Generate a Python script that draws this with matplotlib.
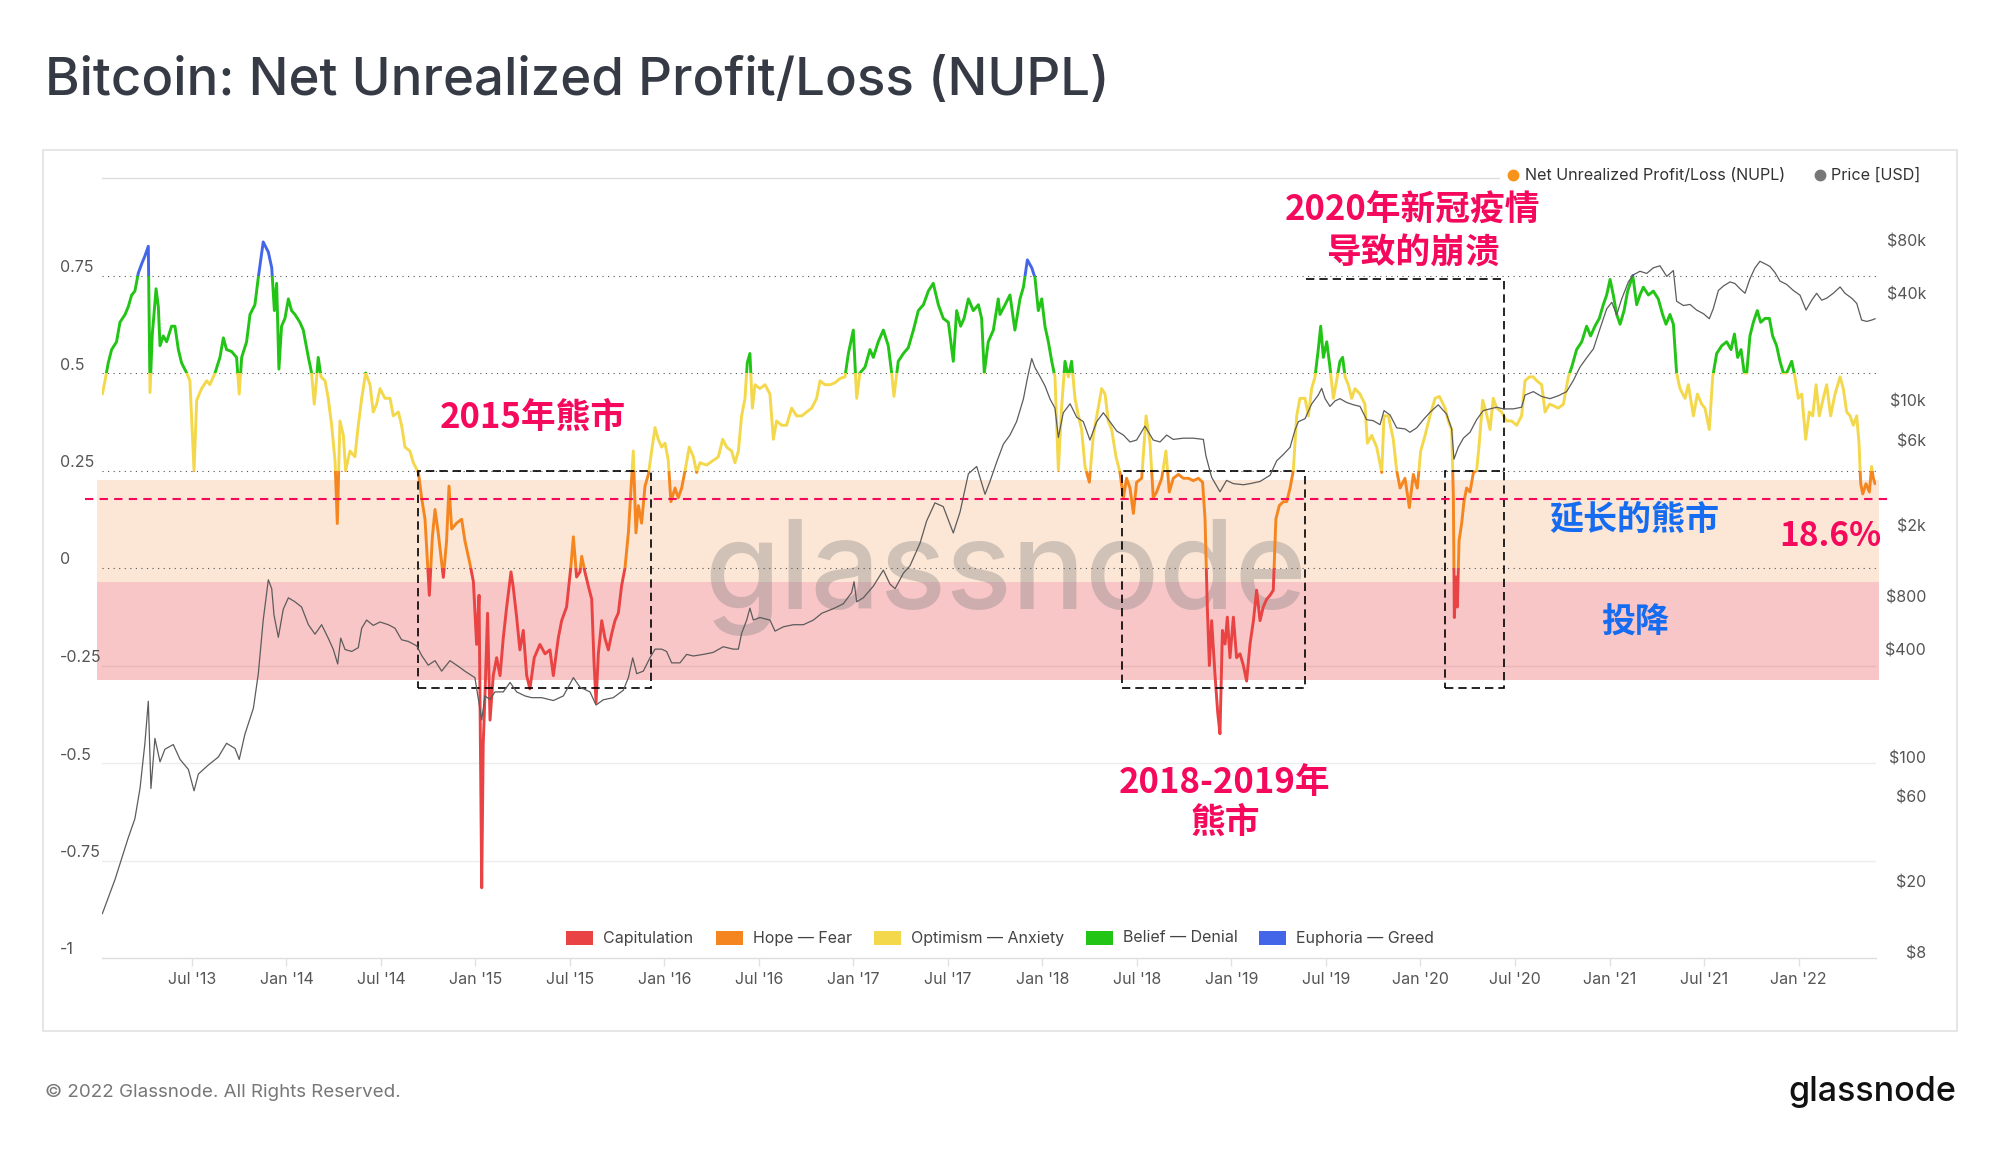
import matplotlib
matplotlib.use("Agg")
import matplotlib.pyplot as plt
from matplotlib.patches import Rectangle
from matplotlib.lines import Line2D
from matplotlib.ticker import NullLocator
from matplotlib.transforms import blended_transform_factory, offset_copy

plt.rcParams['font.family'] = ['Inter', 'Noto Sans CJK SC', 'DejaVu Sans']

# ---------------- data ----------------
nupl_t = [
    2013.026, 2013.040, 2013.057, 2013.075, 2013.101, 2013.119, 2013.146, 2013.163, 2013.181, 2013.198,
    2013.216, 2013.234, 2013.251, 2013.269, 2013.278, 2013.290, 2013.299, 2013.310, 2013.322, 2013.331,
    2013.348, 2013.366, 2013.392, 2013.410, 2013.428, 2013.445, 2013.472, 2013.489, 2013.511, 2013.525,
    2013.551, 2013.578, 2013.595, 2013.622, 2013.648, 2013.666, 2013.683, 2013.710, 2013.736, 2013.750,
    2013.763, 2013.789, 2013.807, 2013.833, 2013.851, 2013.877, 2013.904, 2013.922, 2013.936, 2013.948,
    2013.960, 2013.974, 2013.992, 2014.010, 2014.027, 2014.045, 2014.071, 2014.089, 2014.116, 2014.133,
    2014.147, 2014.160, 2014.168, 2014.183, 2014.204, 2014.221, 2014.239, 2014.257, 2014.269, 2014.283,
    2014.301, 2014.313, 2014.336, 2014.362, 2014.380, 2014.398, 2014.419, 2014.442, 2014.459, 2014.477,
    2014.495, 2014.521, 2014.548, 2014.565, 2014.592, 2014.609, 2014.627, 2014.653, 2014.671, 2014.698,
    2014.715, 2014.733, 2014.756, 2014.772, 2014.786, 2014.803, 2014.830, 2014.847, 2014.860, 2014.874,
    2014.900, 2014.927, 2014.944, 2014.971, 2014.989, 2015.006, 2015.019, 2015.033, 2015.041, 2015.050,
    2015.064, 2015.077, 2015.094, 2015.112, 2015.130, 2015.147, 2015.165, 2015.188, 2015.200, 2015.218,
    2015.235, 2015.253, 2015.271, 2015.288, 2015.311, 2015.341, 2015.368, 2015.394, 2015.412, 2015.438,
    2015.456, 2015.482, 2015.504, 2015.518, 2015.535, 2015.553, 2015.562, 2015.579, 2015.597, 2015.615,
    2015.627, 2015.638, 2015.650, 2015.668, 2015.685, 2015.703, 2015.720, 2015.738, 2015.756, 2015.773,
    2015.791, 2015.809, 2015.826, 2015.835, 2015.849, 2015.862, 2015.879, 2015.897, 2015.915, 2015.932,
    2015.950, 2015.967, 2015.985, 2016.003, 2016.020, 2016.034, 2016.056, 2016.073, 2016.091, 2016.109,
    2016.131, 2016.153, 2016.170, 2016.188, 2016.223, 2016.258, 2016.285, 2016.308, 2016.329, 2016.355,
    2016.373, 2016.391, 2016.408, 2016.426, 2016.438, 2016.452, 2016.465, 2016.479, 2016.505, 2016.532,
    2016.558, 2016.576, 2016.593, 2016.620, 2016.646, 2016.673, 2016.699, 2016.726, 2016.752, 2016.779,
    2016.805, 2016.823, 2016.849, 2016.876, 2016.902, 2016.929, 2016.955, 2016.973, 2016.999, 2017.017,
    2017.034, 2017.061, 2017.087, 2017.105, 2017.131, 2017.158, 2017.184, 2017.202, 2017.214, 2017.237,
    2017.264, 2017.290, 2017.317, 2017.343, 2017.370, 2017.396, 2017.422, 2017.449, 2017.475, 2017.502,
    2017.528, 2017.546, 2017.567, 2017.585, 2017.608, 2017.634, 2017.661, 2017.678, 2017.692, 2017.713,
    2017.740, 2017.766, 2017.775, 2017.802, 2017.828, 2017.854, 2017.881, 2017.899, 2017.920, 2017.943,
    2017.960, 2017.978, 2017.996, 2018.013, 2018.031, 2018.049, 2018.066, 2018.084, 2018.101, 2018.119,
    2018.137, 2018.154, 2018.172, 2018.190, 2018.207, 2018.225, 2018.248, 2018.269, 2018.295, 2018.313,
    2018.331, 2018.348, 2018.366, 2018.389, 2018.410, 2018.428, 2018.445, 2018.463, 2018.481, 2018.498,
    2018.525, 2018.548, 2018.569, 2018.586, 2018.604, 2018.631, 2018.653, 2018.671, 2018.692, 2018.719,
    2018.745, 2018.772, 2018.798, 2018.825, 2018.847, 2018.860, 2018.872, 2018.883, 2018.895, 2018.913,
    2018.927, 2018.939, 2018.952, 2018.966, 2018.978, 2018.992, 2019.010, 2019.027, 2019.045, 2019.063,
    2019.080, 2019.098, 2019.116, 2019.133, 2019.151, 2019.168, 2019.186, 2019.204, 2019.221, 2019.235,
    2019.253, 2019.274, 2019.292, 2019.310, 2019.327, 2019.345, 2019.362, 2019.389, 2019.407, 2019.424,
    2019.442, 2019.459, 2019.472, 2019.486, 2019.504, 2019.521, 2019.539, 2019.556, 2019.574, 2019.588,
    2019.601, 2019.618, 2019.636, 2019.653, 2019.680, 2019.706, 2019.719, 2019.742, 2019.768, 2019.795,
    2019.807, 2019.830, 2019.856, 2019.874, 2019.892, 2019.918, 2019.941, 2019.962, 2019.983, 2020.001,
    2020.024, 2020.050, 2020.077, 2020.100, 2020.130, 2020.147, 2020.165, 2020.174, 2020.179, 2020.188,
    2020.195, 2020.204, 2020.218, 2020.230, 2020.244, 2020.262, 2020.280, 2020.297, 2020.311, 2020.329,
    2020.347, 2020.368, 2020.385, 2020.403, 2020.429, 2020.456, 2020.482, 2020.509, 2020.535, 2020.553,
    2020.576, 2020.597, 2020.615, 2020.641, 2020.659, 2020.682, 2020.703, 2020.729, 2020.756, 2020.782,
    2020.800, 2020.826, 2020.853, 2020.879, 2020.900, 2020.923, 2020.946, 2020.967, 2020.985, 2021.003,
    2021.020, 2021.038, 2021.056, 2021.077, 2021.096, 2021.123, 2021.144, 2021.161, 2021.179, 2021.206,
    2021.232, 2021.258, 2021.281, 2021.299, 2021.320, 2021.338, 2021.355, 2021.373, 2021.400, 2021.417,
    2021.444, 2021.465, 2021.488, 2021.505, 2021.528, 2021.546, 2021.567, 2021.594, 2021.620, 2021.643,
    2021.661, 2021.678, 2021.696, 2021.713, 2021.726, 2021.743, 2021.761, 2021.782, 2021.800, 2021.823,
    2021.846, 2021.863, 2021.884, 2021.902, 2021.920, 2021.937, 2021.964, 2021.981, 2021.999, 2022.017,
    2022.038, 2022.057, 2022.075, 2022.093, 2022.110, 2022.131, 2022.149, 2022.170, 2022.193, 2022.220,
    2022.237, 2022.255, 2022.273, 2022.290, 2022.308, 2022.320, 2022.329, 2022.340, 2022.357, 2022.375,
    2022.387, 2022.396, 2022.405,
]
nupl_v = [
    0.446, 0.48, 0.526, 0.56, 0.58, 0.63, 0.65, 0.67, 0.70, 0.71,
    0.756, 0.78, 0.80, 0.825, 0.45, 0.60, 0.65, 0.716, 0.67, 0.57,
    0.595, 0.58, 0.62, 0.62, 0.56, 0.526, 0.50, 0.48, 0.25, 0.43,
    0.46, 0.48, 0.47, 0.50, 0.54, 0.59, 0.56, 0.555, 0.54, 0.446,
    0.54, 0.58, 0.65, 0.675, 0.745, 0.836, 0.81, 0.77, 0.66, 0.73,
    0.51, 0.62, 0.64, 0.69, 0.66, 0.65, 0.63, 0.61, 0.54, 0.50,
    0.42, 0.49, 0.54, 0.49, 0.48, 0.435, 0.366, 0.274, 0.114, 0.377,
    0.34, 0.25, 0.30, 0.285, 0.366, 0.435, 0.50, 0.47, 0.40, 0.42,
    0.46, 0.435, 0.435, 0.39, 0.40, 0.366, 0.31, 0.30, 0.27, 0.245,
    0.18, 0.125, -0.07, 0.08, 0.15, 0.09, -0.024, 0.068, 0.21, 0.10,
    0.115, 0.125, 0.07, 0.01, -0.035, -0.196, -0.07, -0.82, -0.45, -0.33,
    -0.116, -0.39, -0.276, -0.23, -0.276, -0.18, -0.10, -0.01, -0.05, -0.127,
    -0.21, -0.16, -0.276, -0.31, -0.23, -0.196, -0.22, -0.21, -0.276, -0.18,
    -0.135, -0.10, 0.0, 0.08, -0.023, -0.01, 0.03, -0.01, -0.046, -0.08,
    -0.24, -0.345, -0.22, -0.135, -0.18, -0.21, -0.17, -0.135, -0.115, -0.046,
    0.0, 0.09, 0.228, 0.30, 0.09, 0.16, 0.115, 0.21, 0.24, 0.30,
    0.36, 0.33, 0.31, 0.32, 0.276, 0.17, 0.205, 0.18, 0.205, 0.25,
    0.31, 0.285, 0.245, 0.27, 0.264, 0.276, 0.285, 0.33, 0.31, 0.30,
    0.27, 0.30, 0.39, 0.435, 0.526, 0.55, 0.41, 0.47, 0.46, 0.47,
    0.446, 0.33, 0.377, 0.366, 0.366, 0.41, 0.39, 0.39, 0.40, 0.41,
    0.435, 0.48, 0.47, 0.47, 0.475, 0.486, 0.49, 0.55, 0.61, 0.435,
    0.50, 0.515, 0.56, 0.54, 0.58, 0.61, 0.57, 0.50, 0.44, 0.53,
    0.55, 0.565, 0.61, 0.66, 0.675, 0.71, 0.73, 0.675, 0.64, 0.63,
    0.53, 0.66, 0.62, 0.64, 0.69, 0.66, 0.675, 0.64, 0.50, 0.58,
    0.61, 0.69, 0.65, 0.675, 0.70, 0.61, 0.69, 0.72, 0.79, 0.77,
    0.745, 0.66, 0.69, 0.62, 0.58, 0.53, 0.49, 0.25, 0.41, 0.53,
    0.49, 0.53, 0.435, 0.39, 0.355, 0.26, 0.22, 0.34, 0.41, 0.46,
    0.446, 0.377, 0.355, 0.285, 0.245, 0.18, 0.23, 0.205, 0.14, 0.22,
    0.23, 0.39, 0.32, 0.18, 0.195, 0.23, 0.30, 0.195, 0.23, 0.24,
    0.23, 0.23, 0.224, 0.23, 0.22, 0.126, -0.10, -0.25, -0.135, -0.276,
    -0.37, -0.425, -0.16, -0.195, -0.126, -0.23, -0.126, -0.23, -0.22, -0.25,
    -0.29, -0.195, -0.135, -0.057, -0.135, -0.10, -0.08, -0.07, -0.057, 0.126,
    0.16, 0.17, 0.17, 0.205, 0.25, 0.39, 0.435, 0.435, 0.39, 0.46,
    0.49, 0.56, 0.62, 0.54, 0.58, 0.515, 0.435, 0.48, 0.53, 0.54,
    0.49, 0.47, 0.435, 0.46, 0.446, 0.42, 0.32, 0.34, 0.31, 0.245,
    0.39, 0.39, 0.33, 0.25, 0.205, 0.23, 0.155, 0.24, 0.205, 0.30,
    0.34, 0.39, 0.435, 0.44, 0.41, 0.377, 0.355, 0.18, -0.127, -0.023,
    -0.10, 0.07, 0.115, 0.17, 0.205, 0.195, 0.245, 0.25, 0.32, 0.43,
    0.40, 0.355, 0.435, 0.41, 0.40, 0.377, 0.377, 0.366, 0.39, 0.48,
    0.49, 0.49, 0.48, 0.47, 0.40, 0.42, 0.416, 0.41, 0.42, 0.49,
    0.515, 0.56, 0.58, 0.62, 0.595, 0.62, 0.64, 0.675, 0.70, 0.74,
    0.70, 0.65, 0.625, 0.66, 0.71, 0.75, 0.675, 0.70, 0.72, 0.70,
    0.71, 0.69, 0.65, 0.625, 0.65, 0.625, 0.50, 0.46, 0.435, 0.47,
    0.39, 0.446, 0.42, 0.41, 0.355, 0.49, 0.55, 0.57, 0.58, 0.56,
    0.60, 0.54, 0.56, 0.50, 0.50, 0.595, 0.63, 0.66, 0.63, 0.64,
    0.64, 0.595, 0.57, 0.53, 0.50, 0.50, 0.53, 0.49, 0.435, 0.446,
    0.33, 0.40, 0.39, 0.47, 0.39, 0.435, 0.47, 0.39, 0.446, 0.49,
    0.46, 0.40, 0.39, 0.366, 0.39, 0.32, 0.216, 0.19, 0.216, 0.195,
    0.26, 0.23, 0.216,
]

price_t = [
    2013.026, 2013.093, 2013.163, 2013.198, 2013.225, 2013.251, 2013.269, 2013.283, 2013.304, 2013.331,
    2013.357, 2013.401, 2013.437, 2013.481, 2013.511, 2013.534, 2013.586, 2013.639, 2013.683, 2013.728,
    2013.750, 2013.780, 2013.825, 2013.851, 2013.877, 2013.904, 2013.922, 2013.934, 2013.957, 2013.983,
    2014.010, 2014.045, 2014.080, 2014.116, 2014.151, 2014.186, 2014.221, 2014.248, 2014.271, 2014.287,
    2014.310, 2014.345, 2014.380, 2014.398, 2014.424, 2014.459, 2014.495, 2014.539, 2014.574, 2014.609,
    2014.645, 2014.689, 2014.715, 2014.750, 2014.786, 2014.821, 2014.865, 2014.909, 2014.944, 2014.997,
    2015.033, 2015.050, 2015.077, 2015.103, 2015.147, 2015.183, 2015.218, 2015.262, 2015.297, 2015.350,
    2015.412, 2015.465, 2015.518, 2015.553, 2015.606, 2015.638, 2015.676, 2015.729, 2015.782, 2015.809,
    2015.832, 2015.853, 2015.888, 2015.923, 2015.950, 2015.985, 2016.011, 2016.038, 2016.082, 2016.117,
    2016.153, 2016.206, 2016.258, 2016.311, 2016.364, 2016.391, 2016.408, 2016.435, 2016.452, 2016.470,
    2016.505, 2016.558, 2016.585, 2016.629, 2016.682, 2016.735, 2016.788, 2016.832, 2016.893, 2016.946,
    2016.990, 2017.003, 2017.017, 2017.052, 2017.105, 2017.158, 2017.193, 2017.220, 2017.264, 2017.299,
    2017.352, 2017.387, 2017.431, 2017.475, 2017.528, 2017.564, 2017.608, 2017.652, 2017.696, 2017.722,
    2017.760, 2017.793, 2017.828, 2017.863, 2017.899, 2017.922, 2017.943, 2017.960, 2017.987, 2018.013,
    2018.040, 2018.066, 2018.084, 2018.110, 2018.146, 2018.181, 2018.216, 2018.251, 2018.287, 2018.322,
    2018.357, 2018.392, 2018.428, 2018.463, 2018.498, 2018.542, 2018.586, 2018.622, 2018.657, 2018.692,
    2018.745, 2018.798, 2018.851, 2018.865, 2018.895, 2018.939, 2018.974, 2019.010, 2019.063, 2019.098,
    2019.151, 2019.204, 2019.239, 2019.274, 2019.310, 2019.336, 2019.354, 2019.389, 2019.424, 2019.459,
    2019.477, 2019.495, 2019.521, 2019.548, 2019.574, 2019.609, 2019.645, 2019.680, 2019.715, 2019.750,
    2019.786, 2019.807, 2019.839, 2019.874, 2019.918, 2019.944, 2019.980, 2020.015, 2020.050, 2020.094,
    2020.138, 2020.165, 2020.177, 2020.200, 2020.227, 2020.262, 2020.297, 2020.332, 2020.368, 2020.403,
    2020.438, 2020.491, 2020.535, 2020.553, 2020.597, 2020.641, 2020.685, 2020.729, 2020.773, 2020.809,
    2020.844, 2020.879, 2020.915, 2020.950, 2020.985, 2021.012, 2021.038, 2021.064, 2021.100, 2021.126,
    2021.161, 2021.197, 2021.232, 2021.267, 2021.303, 2021.338, 2021.355, 2021.391, 2021.426, 2021.461,
    2021.497, 2021.528, 2021.549, 2021.576, 2021.602, 2021.638, 2021.664, 2021.690, 2021.717, 2021.743,
    2021.770, 2021.796, 2021.823, 2021.849, 2021.876, 2021.902, 2021.937, 2021.973, 2022.008, 2022.040,
    2022.070, 2022.096, 2022.123, 2022.149, 2022.184, 2022.220, 2022.246, 2022.281, 2022.308, 2022.334,
    2022.361, 2022.387, 2022.405,
]
price_v = [
    13.5, 21, 36, 46, 68, 122, 210, 68, 130, 96,
    113, 120, 99, 87, 66, 82, 92, 102, 122, 114,
    99, 137, 192, 300, 600, 1010, 900, 640, 480, 690,
    800, 760, 710, 565, 500, 565, 475, 410, 340, 475,
    410, 400, 420, 540, 600, 560, 585, 565, 540, 465,
    455, 430, 380, 335, 355, 310, 355, 330, 310, 285,
    165, 225, 215, 237, 237, 268, 237, 225, 220, 220,
    212, 225, 285, 252, 237, 200, 214, 220, 242, 285,
    368, 300, 310, 368, 412, 412, 400, 345, 345, 385,
    377, 385, 395, 425, 412, 412, 505, 600, 700, 600,
    620, 600, 520, 550, 565, 565, 600, 655, 695, 740,
    855, 985, 760, 800, 930, 1145, 955, 900, 1100, 1210,
    1620, 2160, 2730, 2600, 1850, 2430, 3980, 4370, 3050, 3600,
    4700, 5830, 6560, 7800, 10450, 13970, 17630, 15700, 13970, 12400,
    10450, 9290, 6360, 8750, 9830, 8260, 7800, 6150, 7800, 8750,
    7800, 6920, 6560, 6000, 6150, 7360, 6150, 6000, 6560, 6200,
    6300, 6300, 6200, 5000, 3800, 3150, 3650, 3500, 3450, 3500,
    3600, 3900, 4700, 5100, 5600, 7000, 7800, 8100, 9800, 11000,
    12000, 10500, 9500, 10200, 10500, 10000, 9700, 9500, 8000, 7900,
    7500, 9000, 8500, 7200, 7100, 6800, 7200, 8000, 8800, 9700,
    8600, 7100, 4800, 5600, 6300, 6800, 8000, 9000, 9200, 9400,
    9200, 9200, 9400, 11000, 11500, 10800, 10500, 10900, 11500, 13300,
    15800, 17800, 20000, 26000, 33500, 36500, 31000, 38000, 47500, 52000,
    54500, 53000, 57000, 58500, 51000, 55000, 37000, 35000, 35500, 33000,
    31500, 29500, 33600, 42500, 45000, 47500, 46500, 43500, 41000, 49500,
    57000, 62000, 60000, 58000, 53500, 48000, 46000, 42500, 40000, 33000,
    37500, 41000, 37500, 38500, 41000, 44500, 41000, 38500, 36000, 29000,
    28500, 29000, 29500,
]

zone_names = ["Capitulation", "Hope — Fear", "Optimism — Anxiety", "Belief — Denial", "Euphoria — Greed"]
zone_edges = [-1.0, 0.0, 0.25, 0.5, 0.75, 1.0]
zone_colors = ["#E94343", "#F5861F", "#F4D84C", "#22C416", "#4366E8"]

x_tick_pos = [2013.5 + 0.5 * i for i in range(18)]
x_tick_labels = ["Jul '13", "Jan '14", "Jul '14", "Jan '15", "Jul '15", "Jan '16", "Jul '16", "Jan '17",
                 "Jul '17", "Jan '18", "Jul '18", "Jan '19", "Jul '19", "Jan '20", "Jul '20", "Jan '21",
                 "Jul '21", "Jan '22"]
nupl_ticks = [0.75, 0.5, 0.25, 0, -0.25, -0.5, -0.75, -1]
nupl_tick_labels = ["0.75", "0.5", "0.25", "0", "-0.25", "-0.5", "-0.75", "-1"]
price_ticks = [80000, 40000, 10000, 6000, 2000, 800, 400, 100, 60, 20, 8]
price_tick_labels = ["$80k", "$40k", "$10k", "$6k", "$2k", "$800", "$400", "$100", "$60", "$20", "$8"]

# annotation overlays (values in chart units)
capitulation_band = (-0.288, -0.036)
hope_band = (-0.036, 0.226)
current_nupl_line = 0.176
bear_boxes = [(2014.694, 2015.929), (2018.419, 2019.389), (2020.131, 2020.442)]
box_top, box_bottom = 0.25, -0.307
covid_box = (2019.394, 2020.442, 0.741)

# ---------------- layout ----------------
W, H = 2000, 1152
fig = plt.figure(figsize=(W / 100, H / 100), dpi=100)
fig.patch.set_facecolor('white')


def fx(px):
    return px / W


def fy(py):
    return 1 - py / H


AX_L, AX_R, AX_T, AX_B = 102, 1876, 178, 958
AXW = AX_R - AX_L
ax = fig.add_axes([fx(AX_L), fy(AX_B), AXW / W, (AX_B - AX_T) / H])
ax.set_xlim(2013.024, 2022.410)
ax.set_ylim(-1, 1)
for s in ax.spines.values():
    s.set_visible(False)
ax.set_facecolor('none')
ax.yaxis.set_major_locator(NullLocator())
ax.set_xticks(x_tick_pos, x_tick_labels)
ax.tick_params(axis='x', length=5.8, width=1, color='#e1e1e1', pad=4.0, labelsize=11.5, labelcolor='#555555')

bx = blended_transform_factory(ax.transAxes, ax.transData)

# shaded bands
ax.add_patch(Rectangle(((96.5 - AX_L) / AXW, hope_band[0]), (1879 - 96.5) / AXW, hope_band[1] - hope_band[0],
                       transform=bx, fc='#FCE6D6', ec='none', zorder=1, clip_on=False))
ax.add_patch(Rectangle(((96.5 - AX_L) / AXW, capitulation_band[0]), (1879 - 96.5) / AXW,
                       capitulation_band[1] - capitulation_band[0],
                       transform=bx, fc='#F8C6C7', ec='none', zorder=1, clip_on=False))

# grid lines
for v in [-0.25, -0.5, -0.75]:
    ax.axhline(v, color='black', alpha=0.07, lw=1, zorder=1.2)
for v in [1.0, -1.0]:
    ax.axhline(v, color='#dedede', lw=1, zorder=1.2, clip_on=False)
for v in [0.75, 0.5, 0.25, 0.0]:
    ax.axhline(v, color='#555555', lw=0.8, ls=(0, (1, 4)), zorder=2)

# watermark
ax.text(fx(1006), fy(577), 'glassnode', transform=fig.transFigure, ha='center', va='center',
        fontsize=88, color='#7f7f7f', alpha=0.35, zorder=1.5, fontweight='medium')

# NUPL coloured by zone
for lo, hi, c in zip(zone_edges[:-1], zone_edges[1:], zone_colors):
    ln, = ax.plot(nupl_t, nupl_v, color=c, lw=2.1, zorder=4, solid_joinstyle='round', solid_capstyle='round')
    lo_c = lo if lo > -1 else -3
    hi_c = hi if hi < 1 else 3
    ln.set_clip_path(Rectangle((0, lo_c), 1, hi_c - lo_c, transform=bx))

# dashed boxes
for x0, x1 in bear_boxes:
    ax.add_patch(Rectangle((x0, box_bottom), x1 - x0, box_top - box_bottom, fill=False, ec='black',
                           lw=1.2, ls=(0, (5, 3)), zorder=5, clip_on=False))
cx0, cx1, ctop = covid_box
ax.plot([cx0, cx1, cx1], [ctop, ctop, box_top], color='black', lw=1.2, ls=(0, (5, 3)), zorder=5)

# red dashed current level
ax.plot([(85 - AX_L) / AXW, (1889 - AX_L) / AXW], [current_nupl_line] * 2, transform=bx,
        color='#F5095C', lw=1.5, ls=(0, (4, 3)), zorder=5, clip_on=False)

# annotations
pink = '#F5095C'
blue = '#166CF0'
cjk = ['Noto Sans CJK SC', 'DejaVu Sans']
akw = dict(ha='center', va='center', fontweight='bold', family=cjk, zorder=6, clip_on=False)
ax.text(2015.306, 0.385, '2015年熊市', fontsize=25, color=pink, **akw)
ax.text(2019.96, 0.918, '2020年新冠疫情', fontsize=25, color=pink, **akw)
ax.text(2019.96, 0.808, '导致的崩溃', fontsize=25, color=pink, **akw)
ax.text(2018.965, -0.551, '2018-2019年', fontsize=25, color=pink, **akw)
ax.text(2018.965, -0.653, '熊市', fontsize=25, color=pink, **akw)
ax.text(2021.13, 0.125, '延长的熊市', fontsize=24.5, color=blue, **akw)
ax.text(2021.135, -0.138, '投降', fontsize=24.5, color=blue, **akw)
ax.text(2022.17, 0.082, '18.6%', fontsize=24, color=pink, **akw)

# left tick labels
ltr = offset_copy(bx, fig=fig, x=0, y=8, units='dots')
for v, lab in zip(nupl_ticks, nupl_tick_labels):
    ax.text(-(AX_L - 60) / AXW, v, lab, transform=ltr, ha='left', va='center', fontsize=11.5, color='#555555')

# price axis
ax2 = ax.twinx()
ax2.set_yscale('log')
ax2.set_ylim(7.6, 182000)
ax2.yaxis.set_major_locator(NullLocator())
ax2.yaxis.set_minor_locator(NullLocator())
for s in ax2.spines.values():
    s.set_visible(False)
ax2.plot(price_t, price_v, color='#5c5c5c', lw=0.9, zorder=3)
bx2 = blended_transform_factory(ax2.transAxes, ax2.transData)
for p, lab in zip(price_ticks, price_tick_labels):
    ax2.text(1 + 50 / AXW, p, lab, transform=bx2, ha='right', va='center', fontsize=11.5, color='#555555')

# chart frame
fig.patches.append(Rectangle((fx(43), fy(1031)), (1957 - 43) / W, (1031 - 150) / H, fill=False,
                             ec='#e2e2e2', lw=1.2, transform=fig.transFigure, zorder=-1))

# top legend
fig.patches.append(Rectangle((fx(1500), fy(189)), (1935 - 1500) / W, 24 / H, transform=fig.transFigure,
                             fc='white', ec='none', zorder=2))
fig.add_artist(Line2D([fx(1513)], [fy(175)], marker='o', ms=7.5, color='#F7931A', ls='none',
                      transform=fig.transFigure, zorder=3))
fig.text(fx(1525), fy(175), 'Net Unrealized Profit/Loss (NUPL)', fontsize=11.6, color='#333333', va='center',
         zorder=3)
fig.add_artist(Line2D([fx(1820)], [fy(175)], marker='o', ms=7.5, color='#777777', ls='none',
                      transform=fig.transFigure, zorder=3))
fig.text(fx(1831), fy(175), 'Price [USD]', fontsize=11.6, color='#333333', va='center', zorder=3)

# bottom legend
sq_x = [566, 716, 874, 1086, 1259]
for xs, name, c in zip(sq_x, zone_names, zone_colors):
    fig.patches.append(Rectangle((fx(xs), fy(945)), 27 / W, 14 / H, transform=fig.transFigure,
                                 fc=c, ec='none', zorder=3))
    fig.text(fx(xs + 37), fy(938), name, fontsize=11.5, color='#444444', va='center', zorder=3)

# titles and footer
fig.text(fx(45), fy(95), 'Bitcoin: Net Unrealized Profit/Loss (NUPL)', fontsize=38, color='#353a44',
         va='baseline', fontweight='medium')
fig.text(fx(45), fy(1092), '© 2022 Glassnode. All Rights Reserved.', fontsize=13.5, color='#777777',
         va='center')
fig.text(fx(1956), fy(1092), 'glassnode', fontsize=24.5, color='#111111', va='center', ha='right',
         fontweight='medium')

fig.savefig('out.png', dpi=100, facecolor='white')
